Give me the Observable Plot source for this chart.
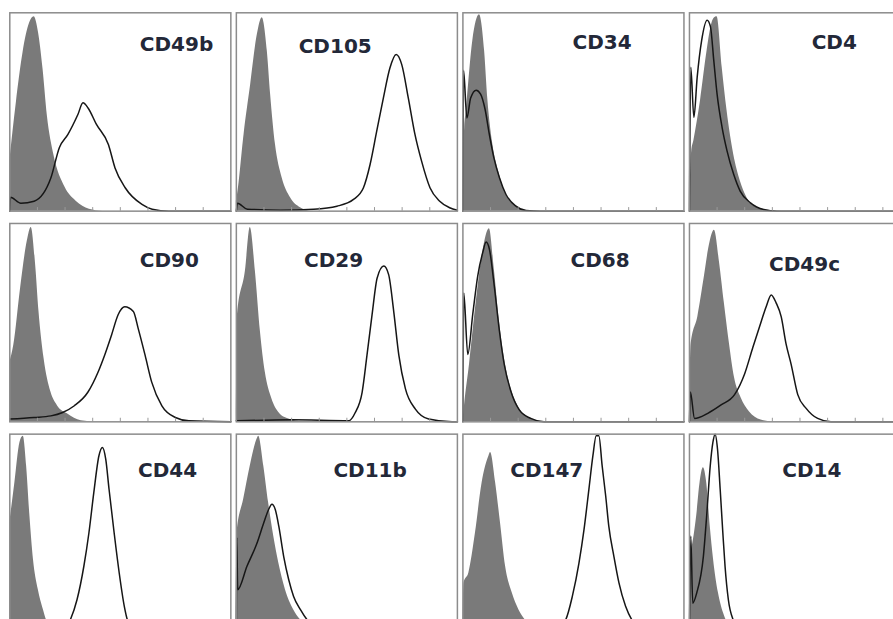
<!DOCTYPE html>
<html>
<head>
<meta charset="utf-8">
<script src="https://cdn.jsdelivr.net/npm/d3@7"></script>
<script src="https://cdn.jsdelivr.net/npm/@observablehq/plot@0.6"></script>
<style>
  html, body { margin: 0; padding: 0; background: #fff; overflow: hidden; }
  svg { max-width: none !important; display: block; }
</style>
</head>
<body>
<div id="chart"></div>
<script>
// Panel names, in reading order (3 rows x 4 columns)
const markers = ["CD49b", "CD105", "CD34", "CD4",
                 "CD90", "CD29", "CD68", "CD49c",
                 "CD44", "CD11b", "CD147", "CD14"];

// Isotype control histograms (grey filled) — [fluorescence %, count %]
const cd49bIso = [[0,25],[3,55],[6,80],[9,95],[11,98],[13,90],[15,72],[17,48],[20,28],[25,12],[30,5],[36,1],[42,0],[100,0]];
const cd105Iso = [[0,5],[0.5,8],[3.5,38.7],[6.5,64],[9.5,89],[11.7,97.5],[14,80.7],[15.5,58.8],[17.7,33.6],[20.7,16.8],[24.5,6.7],[29,1.7],[34,0],[100,0]];
const cd34Iso  = [[0,0],[0.8,42],[1.5,50],[4.5,86],[7.5,99],[9.8,81],[11.3,56],[13.5,34],[16.5,18.6],[19.5,8.4],[24,2.5],[28.6,0.3],[35,0],[100,0]];
const cd4Iso   = [[0,0],[1,30],[2,35.5],[5,55.7],[8,81],[10,94],[11,97],[12.5,98],[14.8,72.6],[17,50.7],[20,28.7],[23,15.2],[26,6.8],[30.6,1.7],[36.6,0.3],[42,0],[100,0]];
const cd90Iso  = [[0,30],[1.8,38.6],[4.9,67.5],[7.9,91],[9.7,98],[11.7,79],[13.2,55.6],[15.5,31.9],[18.6,15],[21.6,8],[26.2,3.9],[32.3,0.5],[38,0],[100,0]];
const cd29Iso  = [[0,0],[0.5,53.9],[4.1,76],[6.3,98],[8.6,76],[10.9,45.4],[13.1,25],[16.1,11.5],[19.2,4.7],[23.7,1.4],[30,0],[100,0]];
const cd68Iso  = [[0,0],[0.75,8.5],[3,29],[6,60],[9,85.5],[12,97.4],[14.2,77],[16.5,51],[18.7,32.5],[21.7,17],[25.5,6.8],[30.7,1.7],[36.7,0],[100,0]];
const cd49cIso = [[0,0],[0.75,39.3],[3.8,53],[6.8,73.5],[9,89],[11.3,96.6],[13.6,80.3],[15.8,59.8],[18.1,39.3],[20.4,22.2],[23.4,12],[27.1,5.1],[32.4,0.9],[38,0],[100,0]];
const cd44Iso  = [[0,55.3],[2.3,75.5],[4.6,95.8],[6.1,99],[7.6,84],[9.1,58.7],[10.7,36.8],[12.9,21.6],[15.2,11.5],[16.7,6],[19.8,2.2],[24.4,0.5],[30,0],[100,0]];
const cd11bIso = [[0,0],[0.3,50.3],[3.3,67],[6.3,84],[9.4,97.5],[10.1,99],[12.4,84],[14.6,65.4],[16.9,48.6],[19.2,35],[22.2,21.6],[25.9,11.5],[29,6.4],[33.5,2.2],[38,0.5],[44,0],[100,0]];
const cd147Iso = [[0,0],[0.5,25],[2.7,30],[5.7,50.3],[8.7,75.5],[11.8,89],[12.5,90.7],[14.8,75.5],[17,55.3],[19.3,33.4],[22.3,20],[25.3,11.5],[28.4,6],[32.9,1.3],[38,0],[100,0]];
const cd14Iso  = [[0,0],[0.3,38.4],[1,41.8],[3.3,59],[4.8,75.5],[6.3,83],[7.8,75.5],[9.4,53.6],[10.9,36.8],[13.1,20],[15.4,9.8],[18.4,3],[23,0.5],[28,0],[100,0]];

// Stained sample histograms (black outline)
const cd49bStain = [[0,0],[0.3,7],[5,4],[11,5],[18.6,16.8],[22.4,32],[26.3,38.7],[30.8,48.7],[33.1,54.6],[35.4,52],[39.2,43.7],[44.6,33.6],[47.6,21.8],[52.2,11.8],[59.8,3.4],[64.4,1],[72,0],[100,0]];
const cd105Stain = [[0,0],[0.5,4],[5,1],[20,0.5],[35,1],[45.5,2.5],[53,5.9],[57.5,11.8],[60.5,23.5],[63.5,40.3],[66.5,57],[69.5,72.3],[72.3,79],[74.8,74],[77.8,57],[80.8,38.7],[83.8,25.2],[87.6,11.8],[92,5],[96.5,1.7],[100,0.5]];
const cd34Stain  = [[0,0],[0.3,71],[1.8,47],[3.5,57],[6,61],[8,59],[10,51.5],[12,38.5],[14,27],[16.5,17],[19.5,8.4],[24,2.5],[28.6,0.3],[35,0],[100,0]];
const cd4Stain   = [[0,0],[0.6,72.6],[2,47.3],[3.5,67.6],[5.5,86],[8,96.3],[9.5,93],[11,76],[12.5,59],[14.8,42],[17,30.4],[20,18.6],[23,10],[27.6,4.2],[33.6,0.8],[39.6,0],[100,0]];
const cd90Stain  = [[0,1.4],[11,2.2],[18.6,3],[23.9,4.7],[29.2,8.1],[35.3,14.9],[39.9,25],[42.9,33.6],[46,43.7],[49,54],[52,58],[55.9,55.6],[58.1,47],[61.2,33.6],[64.2,20],[68.8,8.1],[74.9,2.2],[81,0.5],[100,0]];
const cd29Stain  = [[0,0.5],[25,1],[50.8,0.5],[53.8,4.7],[56.9,14.9],[59.1,33.6],[61.4,54],[63.7,72.5],[66.7,78.5],[68.9,74.2],[71.2,55.6],[73.5,33.6],[76.5,16.6],[81,6.4],[87,1.4],[97.6,0],[100,0]];
const cd68Stain  = [[0,0],[0.4,65],[2.2,34],[4.5,54.7],[6.7,73.5],[9,85.5],[10.5,90.6],[12,87],[14.2,68.4],[16.5,46],[18.7,29],[21.7,15.4],[25.5,6],[30.7,1.7],[36.7,0],[100,0]];
const cd49cStain = [[0,0],[0.4,15],[2.3,1.7],[8.3,4.3],[14.3,8.5],[20.4,13.7],[24.9,24],[28.7,37.6],[31.7,47.9],[34.7,58],[37,64],[39.2,60],[41.5,53],[43.7,39.3],[46,29],[49,13.7],[52.8,6.8],[58,1.7],[64,0],[100,0]];
const cd44Stain  = [[0,0.5],[24.4,0.5],[27.4,6.4],[30.4,16.5],[33.5,33.4],[35.8,50.3],[38,70.5],[40.3,89],[41.9,93.3],[43.4,87.4],[44.9,72.2],[47.2,50.3],[49.5,30],[51.8,13.2],[53.3,6],[56.3,1.3],[60.9,0],[100,0]];
const cd11bStain = [[0,0],[0.2,48],[0.6,21.6],[4.8,33.4],[9.4,45.2],[12.4,55.3],[14.6,62],[16.1,64.6],[17.6,62],[19.2,53.6],[21.4,38.4],[23.7,26.6],[25.9,18.2],[29,11.5],[32,6.4],[36.5,2.2],[42.5,0.5],[50,0],[100,0]];
const cd147Stain = [[0,0.5],[41.9,1.3],[46.5,6.4],[49.5,18.2],[52.5,35],[54.8,52],[57,72.2],[58.8,89],[60.3,99.2],[61.5,99.2],[63,84],[64.6,68.8],[66,53.6],[68.3,38.4],[70.6,25],[73.6,13.2],[76.6,6],[81,1.3],[87.2,0],[100,0]];
const cd14Stain  = [[0,0],[0.6,48.6],[1.5,14.8],[3.3,20],[6.3,38.4],[7.8,59],[9.4,84],[10.6,95.8],[11.6,100],[12.7,92.4],[13.9,72.2],[15.1,50.3],[16.1,33.4],[17.6,16.5],[19.9,6],[22.9,1.3],[28,0],[100,0]];

// Label anchor (in panel data units)
const labelX = [58.8, 28.2, 49.6, 55.3, 58.8, 30.6, 48.7, 36, 58, 43.9, 21.4, 42];
const labelY = [84, 83, 85, 85, 81.5, 81.5, 81.5, 79.1, 81.5, 81.5, 81.5, 81.5];

// Minor ticks along the bottom of each panel
const minorTicks = [12.5, 25, 37.5, 50, 62.5, 75, 87.5];

const isoSeries = [cd49bIso, cd105Iso, cd34Iso, cd4Iso, cd90Iso, cd29Iso, cd68Iso, cd49cIso, cd44Iso, cd11bIso, cd147Iso, cd14Iso];
const stainSeries = [cd49bStain, cd105Stain, cd34Stain, cd4Stain, cd90Stain, cd29Stain, cd68Stain, cd49cStain, cd44Stain, cd11bStain, cd147Stain, cd14Stain];

function toRows(series) {
  return series.flatMap((pts, i) =>
    pts.map(([x, y]) => ({panel: markers[i], row: Math.floor(i / 4), col: i % 4, x, y})));
}
const iso = toRows(isoSeries);
const stain = toRows(stainSeries);
const labels = markers.map((name, i) => ({name, row: Math.floor(i / 4), col: i % 4, x: labelX[i], y: labelY[i]}));

const chart = Plot.plot({
  width: 910,
  height: 632,
  marginLeft: 9.3,
  marginRight: 0,
  marginTop: 12.3,
  marginBottom: 0,
  x: {domain: [0, 100], axis: null},
  y: {domain: [0, 100], axis: null},
  fx: {domain: [0, 1, 2, 3], paddingInner: 0.0243, paddingOuter: 0, round: false, axis: null},
  fy: {domain: [0, 1, 2], paddingInner: 0.0585, paddingOuter: 0, round: false, axis: null},
  style: {fontFamily: "'DejaVu Sans', Verdana, sans-serif", background: "#fff"},
  marks: [
    Plot.areaY(iso, {x: "x", y: "y", z: "panel", fx: "col", fy: "row", fill: "#7a7a7a", curve: "monotone-x"}),
    Plot.lineY(stain, {x: "x", y: "y", z: "panel", fx: "col", fy: "row", stroke: "#161616", strokeWidth: 1.5, curve: "monotone-x"}),
    Plot.ruleX(minorTicks, {x: d => d, y1: 0, y2: 1.8, stroke: "#9a9a9a", strokeWidth: 1}),
    Plot.frame({stroke: "#8c8c8c", strokeWidth: 1.5}),
    Plot.text(labels, {x: "x", y: "y", fx: "col", fy: "row", text: "name", textAnchor: "start",
      fontSize: 20, fontWeight: "bold", fill: "#232838"})
  ]
});
document.getElementById("chart").appendChild(chart);
</script>
</body>
</html>
